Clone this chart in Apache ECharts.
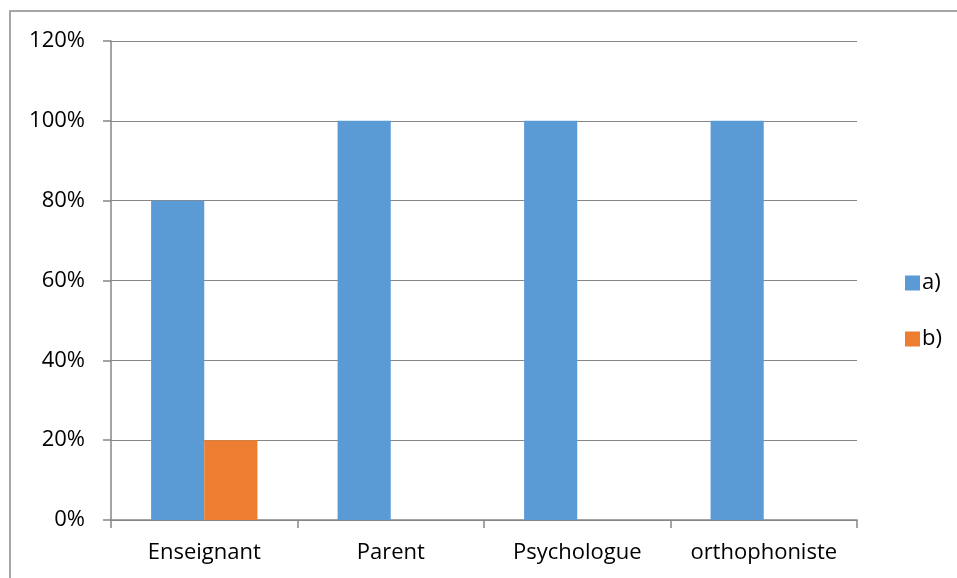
<!DOCTYPE html>
<html>
<head>
<meta charset="UTF-8">
<script src="https://cdn.jsdelivr.net/npm/echarts@6/dist/echarts.min.js"></script>
<style>
  html, body { margin: 0; padding: 0; background: #fff; }
  #main { width: 957px; height: 578px; }
</style>
</head>
<body>
<div id="main"></div>
<script>
var categories = ['Enseignant', 'Parent', 'Psychologue', 'orthophoniste'];
var serieA = [80, 100, 100, 100];
var serieB = [20, 0, 0, 0];
var yTicks = [0, 20, 40, 60, 80, 100, 120];

var chart = echarts.init(document.getElementById('main'));
var font = 'Open Sans';
var gris = '#868686';

chart.setOption({
    animation: false,
    textStyle: { fontFamily: font },
    graphic: [{
        type: 'rect',
        shape: { x: 10, y: 11, width: 1000, height: 1000 },
        style: { fill: 'none', stroke: '#898989', lineWidth: 1.5 },
        silent: true
    }],
    legend: {
        orient: 'vertical',
        left: 900,
        top: 267,
        itemWidth: 15,
        itemHeight: 15,
        itemGap: 34,
        icon: 'rect',
        textStyle: { fontSize: 22, color: '#000', fontFamily: font, padding: [0, 0, 0, -3] },
        data: ['a)', 'b)']
    },
    grid: { left: 111, right: 100, top: 41, bottom: 58 },
    xAxis: {
        type: 'category',
        data: categories,
        axisLine: { lineStyle: { color: gris, width: 1.5 } },
        axisTick: { show: true, interval: 0, length: 8, lineStyle: { color: gris, width: 1.5 } },
        axisLabel: { color: '#000', fontSize: 22, margin: 22, interval: 0, fontFamily: font }
    },
    yAxis: {
        type: 'value',
        min: yTicks[0],
        max: yTicks[yTicks.length - 1],
        interval: 20,
        axisLine: { show: true, lineStyle: { color: gris, width: 1.5 } },
        axisTick: { show: true, inside: false, length: 8, lineStyle: { color: gris, width: 1.5 } },
        splitLine: { lineStyle: { color: gris, width: 1 } },
        axisLabel: { color: '#000', fontSize: 22, margin: 26, fontFamily: font, formatter: '{value}%' }
    },
    series: [{
        name: 'a)',
        type: 'bar',
        data: serieA,
        barGap: '0%',
        barCategoryGap: '43%',
        itemStyle: { color: '#5B9BD5' }
    }, {
        name: 'b)',
        type: 'bar',
        data: serieB,
        barGap: '0%',
        barCategoryGap: '43%',
        itemStyle: { color: '#ED7D31' }
    }]
});
</script>
</body>
</html>
